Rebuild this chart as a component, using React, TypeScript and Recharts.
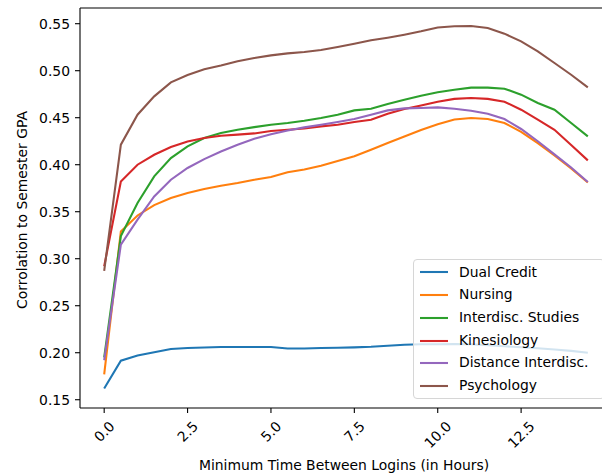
import { Legend, Line, LineChart, ReferenceLine, XAxis, YAxis } from "recharts";

const FONT = "'DejaVu Sans', sans-serif";
const FS = 13.9;
const LINE_W = 2.08;

// minimum time between logins, hours
const HOURS = [
  0, 0.5, 1, 1.5, 2, 2.5, 3, 3.5, 4, 4.5, 5, 5.5, 6, 6.5, 7, 7.5, 8, 8.5, 9, 9.5, 10, 10.5, 11, 11.5, 12,
  12.5, 13, 13.5, 14, 14.5,
];

const DUAL_CREDIT = [
  0.162, 0.1915, 0.197, 0.2005, 0.204, 0.205, 0.2055, 0.206, 0.206, 0.206, 0.206, 0.2045, 0.2045, 0.205,
  0.2053, 0.2057, 0.2063, 0.2075, 0.2085, 0.209, 0.209, 0.2092, 0.209, 0.208, 0.2068, 0.2058, 0.2048,
  0.2035, 0.202, 0.2,
];
const NURSING = [
  0.177, 0.329, 0.346, 0.357, 0.3646, 0.37, 0.3741, 0.3777, 0.3805, 0.384, 0.387, 0.392, 0.395, 0.399, 0.404,
  0.409, 0.416, 0.423, 0.43, 0.437, 0.443, 0.448, 0.4497, 0.4486, 0.4444, 0.435, 0.423, 0.41, 0.396, 0.381,
];
const INTERDISC = [
  0.195, 0.324, 0.3593, 0.3876, 0.4071, 0.4195, 0.4284, 0.4337, 0.4372, 0.44, 0.4426, 0.4444, 0.4468,
  0.4497, 0.4532, 0.4578, 0.4596, 0.4646, 0.4691, 0.4734, 0.477, 0.4798, 0.482, 0.482, 0.4809, 0.4745,
  0.4656, 0.4585, 0.4444, 0.4301,
];
const KINESIOLOGY = [
  0.292, 0.3822, 0.4, 0.4106, 0.4188, 0.4248, 0.4284, 0.4309, 0.432, 0.4333, 0.4358, 0.4372, 0.4386, 0.4408,
  0.4426, 0.4454, 0.4479, 0.4543, 0.4592, 0.4631, 0.467, 0.47, 0.471, 0.47, 0.467, 0.4585, 0.4479, 0.4372,
  0.421, 0.4046,
];
const DISTANCE = [
  0.192, 0.3149, 0.3415, 0.3663, 0.384, 0.3965, 0.406, 0.4141, 0.4213, 0.4277, 0.4325, 0.4365, 0.4397,
  0.4426, 0.4454, 0.4486, 0.4532, 0.4578, 0.4599, 0.4603, 0.461, 0.4596, 0.4574, 0.4543, 0.4486, 0.438,
  0.425, 0.411, 0.397, 0.3816,
];
const PSYCHOLOGY = [
  0.287, 0.4213, 0.4532, 0.4727, 0.4876, 0.4955, 0.5015, 0.5055, 0.51, 0.5135, 0.5163, 0.5184, 0.5199,
  0.522, 0.5252, 0.5287, 0.5323, 0.5351, 0.5383, 0.5419, 0.546, 0.5472, 0.5475, 0.5454, 0.5394, 0.5312,
  0.5205, 0.5082, 0.4957, 0.4822,
];

const SERIES = [
  { key: "dual", name: "Dual Credit", color: "#1f77b4", values: DUAL_CREDIT },
  { key: "nursing", name: "Nursing", color: "#ff7f0e", values: NURSING },
  { key: "interdisc", name: "Interdisc. Studies", color: "#2ca02c", values: INTERDISC },
  { key: "kines", name: "Kinesiology", color: "#d62728", values: KINESIOLOGY },
  { key: "distance", name: "Distance Interdisc.", color: "#9467bd", values: DISTANCE },
  { key: "psych", name: "Psychology", color: "#8c564b", values: PSYCHOLOGY },
];

const X_TICKS = [0, 2.5, 5, 7.5, 10, 12.5];
const Y_TICKS = [0.15, 0.2, 0.25, 0.3, 0.35, 0.4, 0.45, 0.5, 0.55];
const X_DOMAIN = [-0.725, 15.225];
const Y_DOMAIN = [0.1412, 0.5667];

const data = HOURS.map((h, i) => {
  const row: Record<string, number> = { hours: h };
  SERIES.forEach((s) => (row[s.key] = s.values[i]));
  return row;
});

// matplotlib-style rotated tick: bbox centred under the tick, top at y
function XTick(props: any) {
  const { x, y, payload } = props;
  const label = Number(payload.value).toFixed(1);
  const w = [...label].reduce((s, c) => s + (c === "." ? 0.318 : 0.636), 0) * FS;
  const h = FS * 1.16;
  const cy = y + (w + h) / Math.SQRT2 / 2;
  return (
    <text
      x={x}
      y={cy}
      textAnchor="middle"
      dominantBaseline="central"
      transform={`rotate(-45 ${x} ${cy})`}
      fontFamily={FONT}
      fontSize={FS}
      fill="#000"
    >
      {label}
    </text>
  );
}

const XTitle = () => (
  <text x={344} y={465} textAnchor="middle" dominantBaseline="central" fontFamily={FONT} fontSize={FS} fill="#000">
    Minimum Time Between Logins (in Hours)
  </text>
);

const YTitle = () => (
  <text
    x={22}
    y={210}
    textAnchor="middle"
    dominantBaseline="central"
    transform="rotate(-90 22 210)"
    fontFamily={FONT}
    fontSize={FS}
    fill="#000"
  >
    Corrolation to Semester GPA
  </text>
);

function LegendBox() {
  return (
    <div
      style={{
        border: "1px solid #d6d6d6",
        borderRadius: 4,
        background: "rgba(255,255,255,0.8)",
        padding: "4.6px 6px 4.6px 6px",
        fontFamily: FONT,
        fontSize: FS,
        color: "#000",
        boxSizing: "border-box",
      }}
    >
      {SERIES.map((s, i) => (
        <div
          key={s.key}
          style={{ display: "flex", alignItems: "center", height: 15.8, marginTop: i === 0 ? 0 : 6.9, whiteSpace: "nowrap" }}
        >
          <svg width={28} height={10} style={{ marginRight: 11, flex: "none" }}>
            <line x1={0} x2={28} y1={5} y2={5} stroke={s.color} strokeWidth={LINE_W} />
          </svg>
          <span style={{ lineHeight: "15.8px" }}>{s.name}</span>
        </div>
      ))}
    </div>
  );
}

export default function App() {
  return (
    <div style={{ position: "absolute", left: 0, top: 0, width: 602, height: 473, overflow: "hidden", background: "#fff" }}>
      <LineChart width={612} height={473} data={data} margin={{ top: 8, right: 0, left: 0, bottom: 0 }}>
        <XAxis
          dataKey="hours"
          type="number"
          domain={X_DOMAIN}
          ticks={X_TICKS}
          allowDataOverflow
          height={65}
          tickSize={5}
          tickMargin={5}
          tick={<XTick />}
          tickLine={{ stroke: "#000", strokeWidth: 1.1 }}
          axisLine={{ stroke: "#000", strokeWidth: 1.1 }}
          label={<XTitle />}
        />
        <YAxis
          type="number"
          domain={Y_DOMAIN}
          ticks={Y_TICKS}
          allowDataOverflow
          width={80}
          tickSize={5}
          tickMargin={5}
          tickFormatter={(v: number) => v.toFixed(2)}
          tick={{ fontFamily: FONT, fontSize: FS, fill: "#000" }}
          tickLine={{ stroke: "#000", strokeWidth: 1.1 }}
          axisLine={{ stroke: "#000", strokeWidth: 1.1 }}
          label={<YTitle />}
        />
        <ReferenceLine y={Y_DOMAIN[1]} stroke="#000" strokeWidth={1.1} />
        {SERIES.map((s) => (
          <Line
            key={s.key}
            type="linear"
            dataKey={s.key}
            name={s.name}
            stroke={s.color}
            strokeWidth={LINE_W}
            dot={false}
            activeDot={false}
            isAnimationActive={false}
          />
        ))}
        <Legend
          layout="vertical"
          align="center"
          verticalAlign="middle"
          content={<LegendBox />}
          wrapperStyle={{ left: 413, top: 259, width: 192, height: "auto" }}
        />
      </LineChart>
    </div>
  );
}
